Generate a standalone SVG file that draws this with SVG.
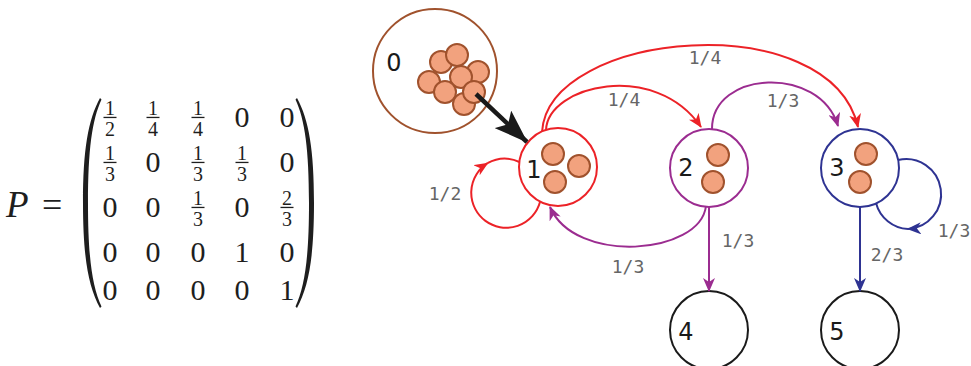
<svg xmlns="http://www.w3.org/2000/svg" width="971" height="366" viewBox="0 0 971 366">
<defs>
<style>
.m{font-family:"Liberation Serif","DejaVu Serif",serif;font-size:30px;fill:#1e1e1e;text-anchor:middle}
.f{font-family:"Liberation Serif","DejaVu Serif",serif;font-size:20px;fill:#1e1e1e;text-anchor:middle}
.nl{font-family:"DejaVu Sans","Noto Sans",sans-serif;font-size:24px;fill:#1a1a1a;text-anchor:middle;dominant-baseline:central}
.el{font-family:"DejaVu Sans Mono","Liberation Mono",monospace;font-size:18px;fill:#666;text-anchor:middle;dominant-baseline:central}
.node{fill:#fff;stroke-width:2}
.marble{fill:#F2A27E;stroke:#A0522D;stroke-width:2}
.e{fill:none;stroke-width:2}
.red{stroke:#EC2227}
.pur{stroke:#9B2C90}
.blu{stroke:#2E3392}
</style>
<marker id="aR" viewBox="0 0 14 12" refX="13" refY="6" markerWidth="14" markerHeight="12" markerUnits="userSpaceOnUse" orient="auto"><path d="M0,0 L14,6 L0,12 L4,6 Z" fill="#EC2227"/></marker>
<marker id="aP" viewBox="0 0 14 12" refX="13" refY="6" markerWidth="14" markerHeight="12" markerUnits="userSpaceOnUse" orient="auto"><path d="M0,0 L14,6 L0,12 L4,6 Z" fill="#9B2C90"/></marker>
<marker id="aB" viewBox="0 0 14 12" refX="13" refY="6" markerWidth="14" markerHeight="12" markerUnits="userSpaceOnUse" orient="auto"><path d="M0,0 L14,6 L0,12 L4,6 Z" fill="#2E3392"/></marker>
<marker id="aK" viewBox="0 0 34 24" refX="33" refY="12" markerWidth="34" markerHeight="24" markerUnits="userSpaceOnUse" orient="auto"><path d="M0,0 L34,12 L0,24 L7,12 Z" fill="#1a1a1a"/></marker>
</defs>
<rect width="971" height="366" fill="#fff"/>

<g id="matrix">
<text x="6" y="217" font-family="Liberation Serif, DejaVu Serif, serif" font-style="italic" font-size="37" fill="#1e1e1e">P</text>
<text x="42" y="217" font-family="Liberation Serif, DejaVu Serif, serif" font-size="36" fill="#1e1e1e">=</text>
<path d="M100,98 C88,120 83,150 83,203 C83,256 88,286 100,308 L101.5,306.5 C92,286 88,256 88,203 C88,150 92,120 101.5,99.5 Z" fill="#1e1e1e"/>
<path d="M297,98 C309,120 314,150 314,203 C314,256 309,286 297,308 L295.5,306.5 C305,286 309,256 309,203 C309,150 305,120 295.5,99.5 Z" fill="#1e1e1e"/>
<g fill="#1e1e1e">
<rect x="103.5" y="116.8" width="13" height="1.3"/>
<rect x="146.5" y="116.8" width="13" height="1.3"/>
<rect x="191.5" y="116.8" width="13" height="1.3"/>
<rect x="103.5" y="161.8" width="13" height="1.3"/>
<rect x="191.5" y="161.8" width="13" height="1.3"/>
<rect x="235.5" y="161.8" width="13" height="1.3"/>
<rect x="191.5" y="206.8" width="13" height="1.3"/>
<rect x="280.5" y="206.8" width="13" height="1.3"/>
</g>
<text class="f" x="110" y="115">1</text><text class="f" x="110" y="136">2</text>
<text class="f" x="153" y="115">1</text><text class="f" x="153" y="136">4</text>
<text class="f" x="198" y="115">1</text><text class="f" x="198" y="136">4</text>
<text class="m" x="242" y="127">0</text>
<text class="m" x="287" y="127">0</text>
<text class="f" x="110" y="160">1</text><text class="f" x="110" y="181">3</text>
<text class="m" x="153" y="172">0</text>
<text class="f" x="198" y="160">1</text><text class="f" x="198" y="181">3</text>
<text class="f" x="242" y="160">1</text><text class="f" x="242" y="181">3</text>
<text class="m" x="287" y="172">0</text>
<text class="m" x="110" y="217">0</text>
<text class="m" x="153" y="217">0</text>
<text class="f" x="198" y="205">1</text><text class="f" x="198" y="226">3</text>
<text class="m" x="242" y="217">0</text>
<text class="f" x="287" y="205">2</text><text class="f" x="287" y="226">3</text>
<text class="m" x="110" y="262">0</text>
<text class="m" x="153" y="262">0</text>
<text class="m" x="198" y="262">0</text>
<text class="m" x="242" y="262">1</text>
<text class="m" x="287" y="262">0</text>
<text class="m" x="110" y="300">0</text>
<text class="m" x="153" y="300">0</text>
<text class="m" x="198" y="300">0</text>
<text class="m" x="242" y="300">0</text>
<text class="m" x="287" y="300">1</text>
</g>

<g id="node0">
<circle class="node" cx="435" cy="71" r="62" stroke="#A0522D"/>
<text class="nl" x="394" y="63">0</text>
<circle class="marble" cx="441" cy="62" r="11"/>
<circle class="marble" cx="457" cy="55" r="11"/>
<circle class="marble" cx="478" cy="72" r="11"/>
<circle class="marble" cx="461" cy="77" r="11"/>
<circle class="marble" cx="429" cy="82" r="11"/>
<circle class="marble" cx="445" cy="92" r="11"/>
<circle class="marble" cx="464" cy="104" r="11"/>
<circle class="marble" cx="474" cy="92" r="11"/>
</g>

<g id="node1">
<circle class="node" cx="558" cy="167" r="39" stroke="#EC2227"/>
<text class="nl" x="534" y="170">1</text>
<circle class="marble" cx="553" cy="154" r="11"/>
<circle class="marble" cx="579" cy="166" r="11"/>
<circle class="marble" cx="555" cy="182" r="11"/>
</g>

<g id="node2">
<circle class="node" cx="709" cy="168" r="39" stroke="#9B2C90"/>
<text class="nl" x="686" y="168">2</text>
<circle class="marble" cx="718" cy="155" r="11"/>
<circle class="marble" cx="713" cy="182" r="11"/>
</g>

<g id="node3">
<circle class="node" cx="860" cy="168" r="39" stroke="#2E3392"/>
<text class="nl" x="837" y="168">3</text>
<circle class="marble" cx="866" cy="154" r="11"/>
<circle class="marble" cx="860" cy="182" r="11"/>
</g>

<g id="node4">
<circle class="node" cx="709" cy="330" r="39" stroke="#1a1a1a"/>
<text class="nl" x="686" y="332">4</text>
</g>

<g id="node5">
<circle class="node" cx="860" cy="330" r="39" stroke="#1a1a1a"/>
<text class="nl" x="837" y="332">5</text>
</g>

<g id="connectors">
<path d="M476,94 L527,142" stroke="#1a1a1a" stroke-width="4.5" fill="none" marker-end="url(#aK)"/>
<path class="e red" d="M540,202 A35,35 0 1 1 487.5,163.2" marker-end="url(#aR)"/>
<path class="e red" d="M487.5,163.2 A35,35 0 0 1 519.5,162"/>
<path class="e red" d="M546,130 C548,85 655,60 701,127" marker-end="url(#aR)"/>
<path class="e red" d="M542,132 C548,30 830,5 858,127" marker-end="url(#aR)"/>
<path class="e pur" d="M712,129 C712,70 820,65 838,126" marker-end="url(#aP)"/>
<path class="e pur" d="M706,206 C700,255 575,265 550,207" marker-end="url(#aP)"/>
<path class="e pur" d="M709,207 L709,291" marker-end="url(#aP)"/>
<path class="e blu" d="M860,207 L860,291" marker-end="url(#aB)"/>
<path class="e blu" d="M898,160 A35,35 0 1 1 908,229" marker-end="url(#aB)"/>
<path class="e blu" d="M908,229 A35,35 0 0 1 876,203"/>
<text class="el" x="705" y="57">1/4</text>
<text class="el" x="624" y="99">1/4</text>
<text class="el" x="783" y="100">1/3</text>
<text class="el" x="445" y="193">1/2</text>
<text class="el" x="628" y="266">1/3</text>
<text class="el" x="738" y="240">1/3</text>
<text class="el" x="887" y="254">2/3</text>
<text class="el" x="954" y="230">1/3</text>
</g>
</svg>
